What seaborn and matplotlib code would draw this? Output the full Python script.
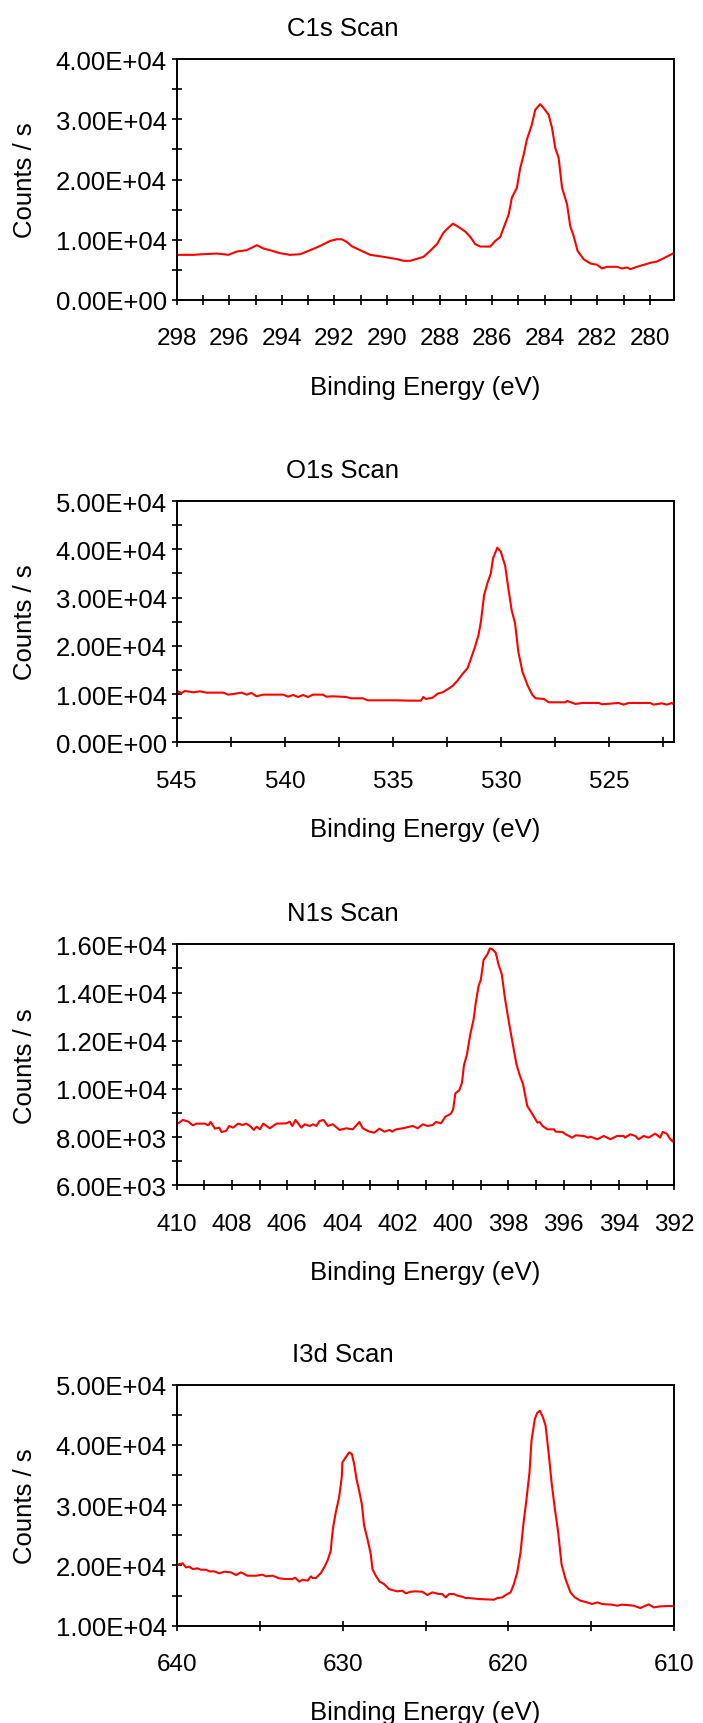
import matplotlib
matplotlib.use("Agg")
import matplotlib.pyplot as plt
from matplotlib.ticker import MultipleLocator, FuncFormatter
import seaborn as sns
import pandas as pd

# ---------------- data ----------------
titles = ["C1s Scan", "O1s Scan", "N1s Scan", "I3d Scan"]
x_label = "Binding Energy (eV)"
y_label = "Counts / s"

c1s_energy = [298.00, 297.37, 296.98, 296.48, 296.03, 295.72, 295.34, 294.95, 294.70, 294.45,
              294.07, 293.69, 293.30, 292.92, 292.54, 292.16, 291.91, 291.72, 291.53, 291.34,
              291.02, 290.64, 290.13, 289.62, 289.37, 289.12, 288.86, 288.61, 288.36, 288.10,
              287.85, 287.66, 287.49, 287.28, 287.02, 286.83, 286.64, 286.45, 286.07, 285.88,
              285.69, 285.56, 285.37, 285.25, 285.06, 284.93, 284.80, 284.68, 284.49, 284.36,
              284.17, 284.04, 283.85, 283.72, 283.60, 283.47, 283.34, 283.15, 283.03, 282.90,
              282.75, 282.52, 282.26, 282.01, 281.82, 281.63, 281.25, 281.06, 280.87, 280.74,
              280.49, 280.23, 279.98, 279.73, 279.47, 279.22, 279.07]
c1s_counts = [7494, 7494, 7604, 7714, 7494, 8045, 8265, 9092, 8541, 8265,
              7769, 7494, 7604, 8265, 8981, 9808, 10083, 10083, 9643, 8926,
              8265, 7494, 7163, 6777, 6502, 6502, 6832, 7163, 8155, 9257,
              11185, 12012, 12673, 12122, 11351, 10469, 9257, 8871, 8871, 9808,
              10469, 12012, 14216, 16971, 18624, 21930, 24134, 26613, 29093, 31572,
              32509, 31848, 30746, 28542, 25236, 23583, 18624, 15869, 12287, 10634,
              8155, 6777, 6061, 5841, 5235, 5510, 5510, 5235, 5400, 5124,
              5510, 5841, 6171, 6392, 6943, 7494, 7824]

o1s_energy = [545.00, 544.77, 544.62, 544.23, 543.92, 543.62, 542.85, 542.62, 542.39, 542.00,
              541.77, 541.54, 541.31, 541.01, 540.08, 539.85, 539.62, 539.39, 539.16, 538.93,
              538.70, 538.24, 538.09, 537.78, 537.17, 536.94, 536.40, 536.17, 535.48, 534.86,
              534.25, 533.71, 533.60, 533.48, 533.17, 532.94, 532.71, 532.48, 532.25, 532.02,
              531.79, 531.56, 531.41, 531.21, 531.05, 530.94, 530.79, 530.64, 530.48, 530.38,
              530.18, 530.02, 529.82, 529.67, 529.52, 529.36, 529.21, 529.02, 528.79, 528.56,
              528.41, 528.03, 527.80, 527.03, 526.95, 526.57, 526.26, 525.49, 525.34, 524.57,
              524.34, 524.11, 523.11, 522.96, 522.57, 522.34, 522.11, 522.00]
o1s_counts = [10635, 10221, 10635, 10359, 10566, 10290, 10290, 9876, 10014, 10290,
              9876, 10221, 9530, 9876, 9876, 9461, 9807, 9392, 9807, 9392,
              9876, 9876, 9461, 9530, 9392, 9116, 9116, 8702, 8702, 8702,
              8633, 8633, 9392, 8978, 9254, 10083, 10359, 10981, 11671, 12776,
              14157, 15331, 17196, 19820, 22237, 25000, 30525, 32942, 35013, 38121,
              40331, 39502, 36602, 31906, 27417, 24654, 18784, 14641, 11878, 9807,
              9116, 8978, 8287, 8287, 8563, 7942, 8149, 8149, 7873, 8149,
              7804, 8149, 8149, 7804, 8080, 7804, 8149, 7735]

n1s_energy = [410.00, 409.94, 409.78, 409.58, 409.42, 409.28, 408.98, 408.86, 408.77, 408.62,
              408.46, 408.38, 408.22, 408.10, 407.96, 407.78, 407.62, 407.48, 407.35, 407.21,
              407.11, 406.99, 406.87, 406.63, 406.39, 406.03, 405.91, 405.82, 405.70, 405.49,
              405.37, 405.19, 405.07, 404.95, 404.83, 404.69, 404.53, 404.35, 404.11, 403.87,
              403.63, 403.39, 403.27, 403.03, 402.85, 402.67, 402.49, 402.30, 402.21, 402.06,
              401.82, 401.46, 401.28, 401.10, 400.92, 400.74, 400.62, 400.44, 400.28, 400.08,
              400.00, 399.92, 399.78, 399.68, 399.61, 399.50, 399.38, 399.26, 399.18, 399.08,
              399.00, 398.90, 398.76, 398.67, 398.58, 398.46, 398.36, 398.24, 398.12, 397.98,
              397.83, 397.71, 397.59, 397.47, 397.32, 397.13, 396.95, 396.87, 396.77, 396.59,
              396.35, 396.29, 396.05, 395.93, 395.69, 395.57, 395.27, 395.11, 395.03, 394.79,
              394.55, 394.31, 394.07, 393.83, 393.79, 393.59, 393.41, 393.29, 393.11, 392.93,
              392.69, 392.51, 392.42, 392.27, 392.16, 392.06, 392.00]
n1s_counts = [8600, 8572, 8711, 8642, 8489, 8559, 8559, 8489, 8628, 8351,
              8393, 8213, 8254, 8462, 8393, 8559, 8503, 8559, 8462, 8296,
              8434, 8323, 8559, 8365, 8559, 8572, 8642, 8462, 8711, 8393,
              8531, 8462, 8531, 8462, 8669, 8711, 8462, 8531, 8296, 8365,
              8323, 8628, 8365, 8227, 8185, 8351, 8227, 8296, 8227, 8323,
              8365, 8462, 8365, 8531, 8462, 8503, 8628, 8572, 8849, 8973,
              9153, 9817, 9942, 10260, 10979, 11435, 12265, 12887, 13579, 14270,
              14520, 15349, 15584, 15833, 15792, 15653, 15169, 14754, 13717, 12749,
              11781, 11020, 10564, 10190, 9292, 8946, 8600, 8628, 8462, 8323,
              8323, 8227, 8213, 8116, 7978, 8074, 8047, 7978, 8020, 7909,
              8047, 7909, 8047, 8047, 7978, 8116, 8047, 7909, 8047, 7978,
              8144, 7978, 8213, 8144, 7936, 7812, 7978]

i3d_energy = [640.00, 639.84, 639.64, 639.44, 639.24, 639.04, 638.74, 638.54, 638.23, 638.03,
              637.73, 637.43, 637.13, 636.73, 636.43, 636.13, 635.73, 635.22, 634.82, 634.62,
              634.22, 633.82, 633.42, 633.02, 632.86, 632.61, 632.41, 632.11, 631.91, 631.81,
              631.61, 631.31, 631.11, 630.91, 630.71, 630.65, 630.57, 630.41, 630.21, 630.05,
              630.01, 629.85, 629.60, 629.44, 629.30, 629.16, 629.00, 628.84, 628.70, 628.50,
              628.30, 628.20, 628.00, 627.76, 627.50, 627.20, 627.00, 626.70, 626.40, 626.19,
              625.89, 625.59, 625.19, 624.89, 624.59, 624.19, 623.99, 623.78, 623.58, 623.28,
              623.08, 622.78, 622.58, 622.38, 621.78, 620.87, 620.67, 620.37, 620.17, 619.87,
              619.67, 619.47, 619.27, 619.11, 618.91, 618.73, 618.61, 618.41, 618.27, 618.11,
              617.92, 617.76, 617.56, 617.40, 617.20, 617.00, 616.80, 616.56, 616.26, 616.00,
              615.66, 615.26, 614.96, 614.65, 614.35, 613.75, 613.45, 613.15, 612.85, 612.45,
              612.05, 611.54, 611.24, 610.84, 610.34, 610.00]
i3d_counts = [19959, 20236, 20347, 19683, 19793, 19406, 19517, 19295, 19295, 19019,
              19019, 18687, 18963, 18853, 18410, 18853, 18299, 18299, 18465, 18189,
              18299, 17857, 17746, 17746, 17968, 17304, 17636, 17470, 18189, 17912,
              17912, 18742, 19683, 20790, 22449, 24386, 26322, 28812, 31302, 34622,
              37111, 37776, 38772, 38495, 36836, 34345, 32409, 30195, 26599, 24386,
              21896, 19406, 18299, 17304, 16916, 16086, 15920, 15699, 15810, 15367,
              15644, 15699, 15644, 15090, 15533, 15256, 15256, 14703, 15256, 15256,
              14980, 14814, 14592, 14592, 14426, 14316, 14592, 14703, 15090, 15533,
              16916, 18853, 22173, 26599, 31025, 35452, 40708, 44305, 45301, 45688,
              44581, 43198, 38218, 33792, 29366, 25492, 20236, 17746, 15533, 14703,
              14150, 13873, 13597, 13873, 13597, 13486, 13320, 13486, 13431, 13320,
              12932, 13541, 13043, 13209, 13265, 13265]

x_limits = [(298, 279.07), (545, 522.0), (410, 392), (640, 610)]
x_major = [2, 5, 2, 10]
x_minor = [1, 2.5, 1, 5]
y_limits = [(0, 40000), (0, 50000), (6000, 16000), (10000, 50000)]
y_major = [10000, 10000, 2000, 10000]
y_minor = [5000, 5000, 1000, 5000]

series = [(c1s_energy, c1s_counts), (o1s_energy, o1s_counts),
          (n1s_energy, n1s_counts), (i3d_energy, i3d_counts)]

# ---------------- styling ----------------
sns.set_theme(style="ticks", rc={
    "axes.edgecolor": "black",
    "axes.linewidth": 1.4,
    "xtick.color": "black",
    "ytick.color": "black",
    "text.color": "black",
    "axes.labelcolor": "black",
})
plt.rcParams["font.family"] = ["Liberation Sans", "DejaVu Sans"]

W, H = 703, 1724
fig = plt.figure(figsize=(W / 100, H / 100), dpi=100)
fig.patch.set_facecolor("white")

left = 176.7 / W
width = (674.3 - 176.7) / W
tops_px = [60.0, 502.0, 945.3, 1385.7]
bottoms_px = [301.0, 743.3, 1186.3, 1626.7]

sci = FuncFormatter(lambda v, _: f"{v:.2E}")

for i in range(4):
    tpx, bpx = tops_px[i], bottoms_px[i]
    hpx = bpx - tpx
    ax = fig.add_axes([left, 1 - bpx / H, width, hpx / H])
    e, c = series[i]
    df = pd.DataFrame({"energy": e, "counts": c})
    sns.lineplot(data=df, x="energy", y="counts", ax=ax, color="#ff0000",
                 linewidth=1.5, estimator=None, sort=False, legend=False)
    ax.set_xlim(*x_limits[i])
    ax.set_ylim(*y_limits[i])
    ax.xaxis.set_major_locator(MultipleLocator(x_major[i]))
    ax.xaxis.set_minor_locator(MultipleLocator(x_minor[i]))
    ax.yaxis.set_major_locator(MultipleLocator(y_major[i]))
    ax.yaxis.set_minor_locator(MultipleLocator(y_minor[i]))
    ax.yaxis.set_major_formatter(sci)
    ax.xaxis.set_major_formatter(FuncFormatter(lambda v, _: f"{v:g}"))
    for s in ax.spines.values():
        s.set_visible(True)
        s.set_color("black")
        s.set_linewidth(1.4)
    ax.tick_params(axis="both", which="both", direction="inout", length=6.5,
                   width=1.2, color="black")
    ax.tick_params(axis="x", which="both", pad=16.5, labelsize=17.5)
    ax.tick_params(axis="y", which="both", pad=4, labelsize=18.5)
    ax.tick_params(which="both", top=False, right=False)

    ax.set_xlabel(x_label, fontsize=18.5)
    ax.set_ylabel(y_label, fontsize=18.5)
    ax.xaxis.set_label_coords(0.5, -74.5 / hpx)
    ax.yaxis.label.set_va("center")
    ax.yaxis.set_label_coords((25 - 176.7) / (674.3 - 176.7), 0.5)
    ax.text(0.334, 1 + 24 / hpx, titles[i], transform=ax.transAxes,
            ha="center", va="baseline", fontsize=18.5)

fig.savefig("out.png", dpi=100, facecolor="white")
